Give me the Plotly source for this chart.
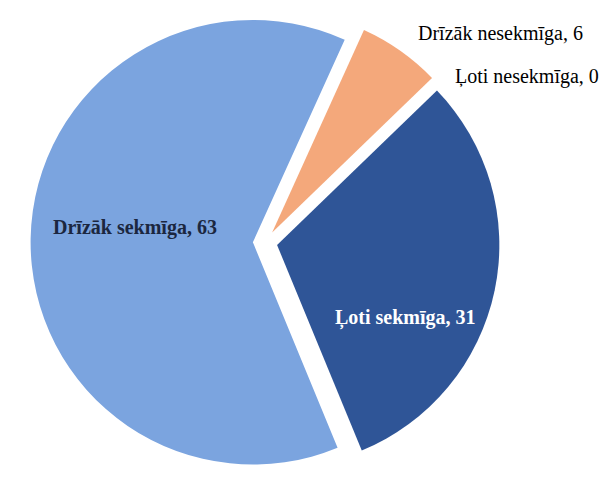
import plotly.graph_objects as go

labels = ["Ļoti sekmīga", "Drīzāk sekmīga", "Drīzāk nesekmīga", "Ļoti nesekmīga"]
values = [31, 63, 6, 0]
colors = ["#2F5597", "#7BA4DF", "#F4A87B", "#A5A5A5"]
pulls = [0.055, 0.055, 0.055, 0.055]

# data labels "<label>, <value>", placed where the original chart has them
label_text = [f"{l}, {v}" for l, v in zip(labels, values)]
label_x = [0.663, 0.211, 0.962, 0.988]
label_y = [0.340, 0.532, 0.946, 0.855]
label_anchor = ["center", "center", "right", "right"]
label_color = ["white", "#1B2740", "black", "black"]
label_bold = [True, True, False, False]

pie = go.Pie(
    labels=labels,
    values=values,
    sort=False,
    direction="clockwise",
    rotation=46,
    pull=pulls,
    marker=dict(colors=colors, line=dict(width=0)),
    textinfo="none",
    showlegend=False,
    hoverinfo="label+value",
    domain=dict(x=[0, 0.857], y=[0, 1]),
)

fig = go.Figure(data=[pie])

for t, x, y, a, c, b in zip(label_text, label_x, label_y, label_anchor, label_color, label_bold):
    fig.add_annotation(
        text=f"<b>{t}</b>" if b else t,
        x=x, y=y, xref="paper", yref="paper",
        xanchor=a, yanchor="middle",
        showarrow=False,
        font=dict(family="Liberation Serif", size=20, color=c),
    )

# page body has an 8px margin, so keep the figure inside the window
fig.update_layout(
    width=600,
    height=469,
    margin=dict(l=0, r=0, t=0, b=0),
    paper_bgcolor="white",
    plot_bgcolor="white",
)
fig.write_html("out.html")
